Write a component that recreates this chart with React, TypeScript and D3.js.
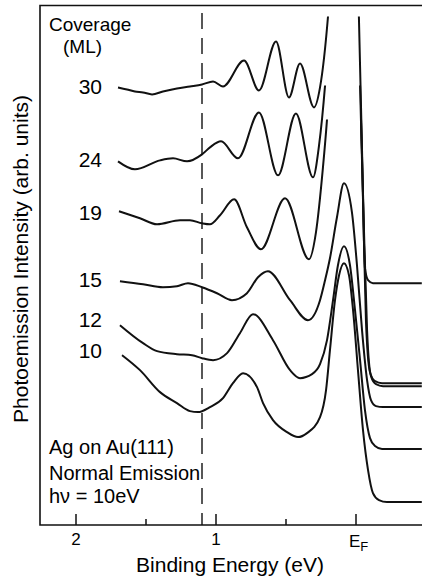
import * as d3 from 'd3';

// coverage of each trace (ML), top to bottom
const coverage = ['30', '24', '19', '15', '12', '10'];

// binding energy (eV) and photoemission intensity (arb. units, offset traces)
const energy30 = [1.7, 1.636, 1.579, 1.521, 1.457, 1.379, 1.279, 1.186, 1.1, 1.021, 0.95, 0.8, 0.693, 0.571, 0.479, 0.4, 0.3, 0.257, 0.2, 0.086, -0.021, -0.043, -0.064, -0.086, -0.121, -0.47];
const counts30 = [87.6, 87.2, 86.8, 86.6, 86.2, 86.8, 87.4, 87.8, 88.2, 88.8, 87.8, 93.0, 87.0, 96.8, 85.6, 92.4, 83.6, 87.6, 101.8, 160, 101.4, 75.0, 51.4, 49.0, 48.4, 48.4];

const energy24 = [1.7, 1.579, 1.4, 1.307, 1.207, 1.1, 1.043, 0.964, 0.843, 0.693, 0.557, 0.429, 0.307, 0.264, 0.221, 0.086, -0.029, -0.05, -0.071, -0.1, -0.136, -0.186, -0.47];
const counts24 = [72.8, 71.2, 73.0, 73.4, 72.8, 74.2, 75.6, 76.8, 73.4, 82.6, 70.0, 82.4, 69.6, 76.0, 88.0, 160, 88.0, 65.0, 41.0, 30.6, 28.8, 28.4, 28.4];

const energy19 = [1.693, 1.543, 1.421, 1.257, 1.186, 1.1, 1.043, 0.971, 0.871, 0.779, 0.679, 0.507, 0.336, 0.286, 0.236, 0.207, 0.086, -0.036, -0.057, -0.079, -0.107, -0.143, -0.193, -0.47];
const counts19 = [62.8, 61.4, 60.2, 61.0, 61.0, 60.4, 60.2, 62.0, 65.2, 59.6, 55.2, 65.4, 53.2, 58.6, 71.6, 81.2, 150, 81.2, 59.0, 39.0, 29.8, 28.2, 27.8, 27.8];

const energy15 = [1.686, 1.521, 1.379, 1.279, 1.2, 1.1, 0.993, 0.886, 0.779, 0.7, 0.629, 0.471, 0.343, 0.257, 0.221, 0.186, 0.136, 0.086, 0.029, -0.007, -0.043, -0.079, -0.107, -0.143, -0.193, -0.47];
const counts15 = [48.8, 48.2, 47.6, 47.8, 48.4, 47.6, 46.4, 45.0, 46.4, 49.6, 50.8, 45.0, 41.0, 45.0, 49.0, 53.4, 61.6, 68.4, 62.6, 52.0, 39.0, 29.0, 25.0, 23.8, 23.6, 23.6];

const energy12 = [1.686, 1.521, 1.421, 1.279, 1.171, 1.1, 1.021, 0.921, 0.829, 0.736, 0.593, 0.471, 0.4, 0.314, 0.257, 0.207, 0.164, 0.129, 0.086, 0.043, 0.007, -0.029, -0.064, -0.1, -0.136, -0.186, -0.47];
const counts12 = [40.0, 36.4, 34.8, 34.2, 34.0, 33.4, 33.0, 34.4, 38.4, 42.2, 37.0, 31.0, 29.4, 30.2, 32.2, 37.0, 45.0, 52.0, 55.8, 52.0, 43.0, 33.0, 23.0, 17.4, 15.8, 15.2, 15.2];

const energy10 = [1.671, 1.543, 1.4, 1.279, 1.186, 1.129, 1.043, 0.95, 0.879, 0.807, 0.707, 0.664, 0.593, 0.493, 0.414, 0.35, 0.257, 0.214, 0.186, 0.15, 0.121, 0.086, 0.05, 0.021, -0.014, -0.05, -0.086, -0.121, -0.164, -0.221, -0.47];
const counts10 = [34.0, 31.0, 26.6, 24.4, 22.8, 22.6, 23.6, 25.4, 28.4, 30.4, 27.6, 24.4, 21.0, 18.6, 17.6, 18.4, 21.6, 27.0, 35.0, 45.0, 50.0, 52.4, 50.0, 43.0, 31.0, 19.0, 11.0, 6.4, 5.0, 4.6, 4.6];

// traces that run off the top are cut at these intensities
const cutoffs = [101.8, 88.0, 81.2, 104, 104, 104];

const majorTicks = [2, 1, 0];
const minorTicks = [1.5, 0.5];
const markerEnergy = 1.1;

const energies = [energy30, energy24, energy19, energy15, energy12, energy10];
const counts = [counts30, counts24, counts19, counts15, counts12, counts10];
const labelY = [94, 167, 220, 287, 327, 358];

const font = 'Liberation Sans, Arial, sans-serif';

export default function App() {
  const left = 40, right = 422, top = 5.5, bottom = 525;
  const x = d3.scaleLinear().domain([2, 0]).range([76, 356]);
  const y = d3.scaleLinear().domain([0, 104]).range([bottom, top]);

  const line = d3.line<[number, number]>()
    .x(d => x(d[0]))
    .y(d => y(d[1]))
    .curve(d3.curveMonotoneX);

  return (
    <svg width={422} height={577} style={{ position: 'absolute', left: 0, top: 0 }}
      fontFamily={font}>
      <defs>
        {cutoffs.map((c, i) => (
          <clipPath key={i} id={`clip${i}`}>
            <rect x={left} y={y(c)} width={right - left} height={bottom - y(c)} />
          </clipPath>
        ))}
      </defs>

      {/* frame */}
      <path d={`M${right},${top}H${left}V${bottom}H${right}`} fill="none" stroke="#111" strokeWidth={1.6} />

      {/* ticks */}
      {majorTicks.map(t => (
        <line key={t} x1={x(t)} x2={x(t)} y1={bottom} y2={bottom - 11} stroke="#111" strokeWidth={1.5} />
      ))}
      {minorTicks.map(t => (
        <line key={t} x1={x(t)} x2={x(t)} y1={bottom} y2={bottom - 6} stroke="#111" strokeWidth={1.5} />
      ))}
      <line x1={x(markerEnergy)} x2={x(markerEnergy)} y1={13} y2={bottom} stroke="#111"
        strokeWidth={1.4} strokeDasharray="16,9" />

      <text x={x(2)} y={545} fontSize={17} textAnchor="middle">2</text>
      <text x={x(1)} y={545} fontSize={17} textAnchor="middle">1</text>
      <text x={x(0) - 7} y={547} fontSize={17}>E<tspan dy={4} fontSize={13}>F</tspan></text>

      {/* spectra */}
      {energies.map((e, i) => (
        <path key={i} d={line(e.map((v, j) => [v, counts[i][j]] as [number, number])) || ''}
          fill="none" stroke="#111" strokeWidth={2} strokeLinejoin="round"
          clipPath={`url(#clip${i})`} />
      ))}

      {/* labels */}
      <text x={49} y={31} fontSize={19}>Coverage</text>
      <text x={63} y={53} fontSize={19}>(ML)</text>
      {coverage.map((c, i) => (
        <text key={c} x={102} y={labelY[i]} fontSize={21} textAnchor="end">{c}</text>
      ))}
      <text x={49} y={454} fontSize={20}>Ag on Au(111)</text>
      <text x={49} y={480} fontSize={20}>Normal Emission</text>
      <text x={49} y={503} fontSize={20}>hν = 10eV</text>

      <text x={230} y={572} fontSize={21} textAnchor="middle">Binding Energy (eV)</text>
      <text transform="translate(28,259) rotate(-90)" fontSize={21} textAnchor="middle">
        Photoemission Intensity (arb. units)
      </text>
    </svg>
  );
}
